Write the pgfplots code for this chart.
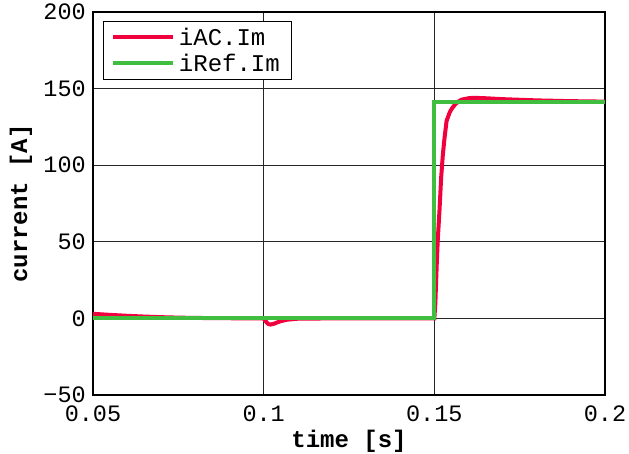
\documentclass[border=0pt]{standalone}
\usepackage{pgfplots}
\pgfplotsset{compat=1.18}
\usepackage{fontspec}
\setmainfont{Liberation Mono}
\definecolor{cred}{RGB}{240,0,60}
\definecolor{cgreen}{RGB}{64,190,64}
\begin{document}
\begin{tikzpicture}
\begin{axis}[
  scale only axis,
  width=512pt, height=383pt,
  xmin=0.05, xmax=0.2, ymin=-50, ymax=200,
  xtick={0.05,0.1,0.15,0.2},
  xticklabels={0.05,0.1,0.15,0.2},
  ytick={-50,0,50,100,150,200},
  yticklabels={−50,0,50,100,150,200},
  /pgf/number format/assume math mode=true,
  tick label style={font=\fontsize{23.5}{24}\selectfont, inner sep=0pt},
  xticklabel style={anchor=north, yshift=-11pt},
  yticklabel style={anchor=east, xshift=-7pt},
  grid=major,
  major grid style={black!85, line width=0.7pt},
  tick style={draw=none},
  axis line style={black, line width=1.2pt},
  xlabel={\textbf{time [s]}},
  ylabel={\textbf{current [A]}},
  label style={font=\fontsize{24}{24}\selectfont},
  xlabel style={at={(axis description cs:0.5,0)}, anchor=center, yshift=-46pt},
  ylabel style={at={(axis description cs:0,0.5)}, anchor=center, yshift=72pt},
  legend style={font=\fontsize{24}{24}\selectfont, draw=black, line width=1pt,
    at={(axis description cs:0,1)}, anchor=north west, xshift=10pt, yshift=-9pt,
    inner xsep=8pt, inner ysep=3pt, row sep=0pt, nodes={inner sep=3.5pt}},
  legend cell align=left,
  legend image code/.code={\draw[#1, line width=4pt] (0pt,0pt) -- (60pt,0pt);},
]
\coordinate (sw) at (rel axis cs:0,0);
\addplot[cred, line width=4pt] coordinates {
(0.05,3.0) (0.055,2.3) (0.06,1.7) (0.065,1.2) (0.07,0.8) (0.075,0.5) (0.08,0.3) (0.09,0.1)
(0.1,0.0) (0.1005,-1.5) (0.101,-3.0) (0.1015,-3.8) (0.102,-4.0) (0.103,-3.5) (0.104,-2.6)
(0.105,-1.8) (0.107,-0.8) (0.11,-0.2) (0.12,0) (0.15,0)
(0.1503,10) (0.1507,35) (0.151,51) (0.1515,70) (0.152,92) (0.1525,107) (0.153,118)
(0.1536,129) (0.1545,134.5) (0.155,136.5) (0.156,139.5) (0.157,141.5) (0.158,142.8)
(0.16,143.7) (0.1615,144) (0.165,143.7) (0.17,143.1) (0.18,142.3) (0.19,141.8) (0.2,141.5)
};
\addlegendentry{iAC.Im}
\addplot[cgreen, line width=4pt] coordinates {
(0.05,0) (0.15,0) (0.15,141.42) (0.2,141.42)
};
\addlegendentry{iRef.Im}
\end{axis}
\pgfresetboundingbox
\path (sw) ++(-93pt,-59pt) rectangle ++(629pt,454pt);
\end{tikzpicture}
\end{document}
